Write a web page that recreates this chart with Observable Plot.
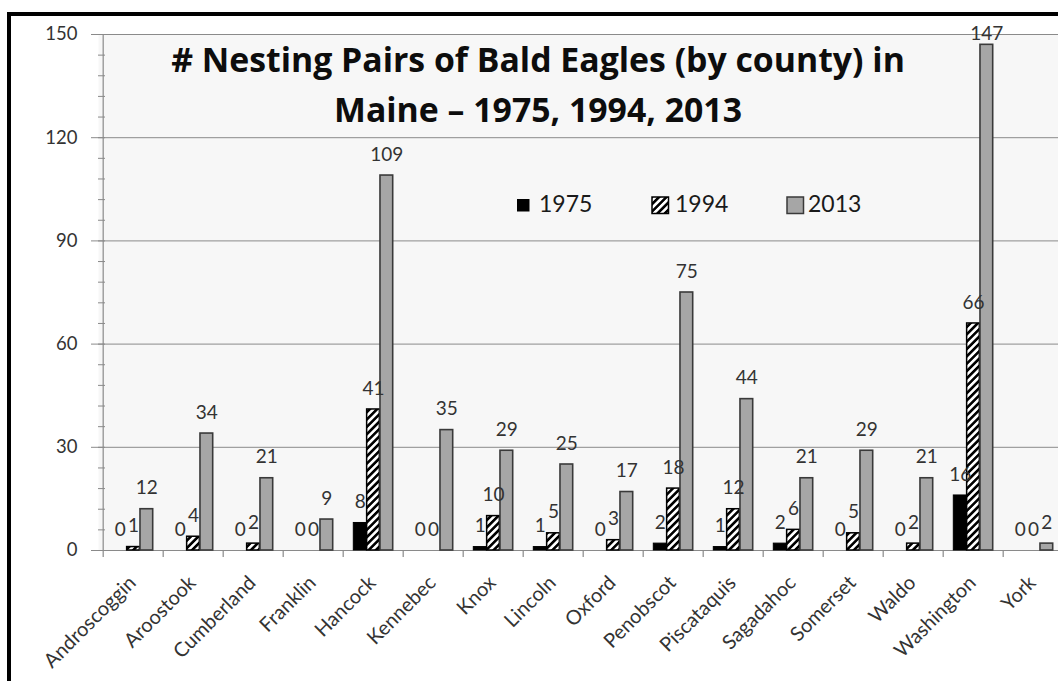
<!DOCTYPE html>
<html><head><meta charset="utf-8">
<script src="https://cdn.jsdelivr.net/npm/d3@7"></script>
<script src="https://cdn.jsdelivr.net/npm/@observablehq/plot@0.6"></script>
<style>
html,body{margin:0;padding:0;background:#fff;overflow:hidden;width:1058px;height:681px;}
#frame{position:absolute;left:7px;top:12px;width:1100px;height:700px;border-left:4px solid #000;border-top:4px solid #000;background:#fff;overflow:hidden;}
#chart{position:absolute;left:0;top:0;}
#title{position:absolute;left:27px;width:1000px;top:18px;text-align:center;font-family:"Open Sans",sans-serif;font-weight:bold;font-size:33.8px;line-height:50px;color:#0d0d0d;white-space:nowrap;}
.lg{position:absolute;font-family:Lato,sans-serif;font-size:23px;line-height:27.6px;color:#1a1a1a;top:174px;}
.sw{position:absolute;}
</style>
</head><body>
<div id="frame">
  <div id="chart"></div>
  <div id="title"># Nesting Pairs of Bald Eagles (by county) in<br>Maine – 1975, 1994, 2013</div>
  <div id="legend"></div>
</div>
<script>
const counties = ["Androscoggin","Aroostook","Cumberland","Franklin","Hancock","Kennebec","Knox","Lincoln","Oxford","Penobscot","Piscataquis","Sagadahoc","Somerset","Waldo","Washington","York"];
const years = ["1975","1994","2013"];
const pairs1975 = [0,0,0,0,8,0,1,1,0,2,1,2,0,0,16,0];
const pairs1994 = [1,4,2,0,41,0,10,5,3,18,12,6,5,2,66,0];
const pairs2013 = [12,34,21,9,109,35,29,25,17,75,44,21,29,21,147,2];
const yTicks = [0,30,60,90,120,150];
const yMinor = d3.range(0, 151, 6);

const series = {"1975": pairs1975, "1994": pairs1994, "2013": pairs2013};
const rows = years.flatMap(y => counties.map((c, i) => ({county: c, year: y, value: series[y][i]})));

const W = 1067, H = 665, mL = 87, mR = 10, mT = 18, mB = 131;
const step = (W - mL - mR) / counties.length;
const group = step * 0.66;
const bw = group / 3;
const pad = (step - group) / 2;

const styles = {
  "1975": {fill: "#000", stroke: "#000", strokeWidth: 1},
  "1994": {fill: "url(#hatch)", stroke: "#000", strokeWidth: 1.5},
  "2013": {fill: "#a6a6a6", stroke: "#3a3a3a", strokeWidth: 1.6}
};
const grid = "#8a8a8a";
const font = "Lato, sans-serif";

const barMarks = years.map((y, k) => Plot.barY(rows.filter(d => d.year === y && d.value > 0), {
  x: "county", y: "value",
  insetLeft: pad + k * bw, insetRight: step - pad - (k + 1) * bw,
  ...styles[y]
}));
const labelMarks = years.flatMap((y, k) => [
  Plot.text(rows.filter(d => d.year === y && d.value <= 140), {
    x: "county", y: "value", text: d => String(d.value),
    dx: (k - 1) * bw, dy: -21, fontSize: 19, fill: "#333", fontFamily: font
  }),
  Plot.text(rows.filter(d => d.year === y && d.value > 140), {
    x: "county", y: "value", text: d => String(d.value),
    dx: (k - 1) * bw, dy: -11, fontSize: 19, fill: "#333", fontFamily: font
  })
]);

const chart = Plot.plot({
  width: W, height: H,
  marginLeft: mL, marginRight: mR, marginTop: mT, marginBottom: mB,
  style: {fontFamily: font, background: "transparent", overflow: "visible"},
  x: {domain: counties, padding: 0, label: null},
  y: {domain: [0, 150], label: null},
  marks: [
    Plot.frame({fill: "#f7f7f7"}),
    Plot.gridY(yTicks, {stroke: grid, strokeOpacity: 1, strokeWidth: 1}),
    Plot.ruleY([0], {stroke: grid, strokeWidth: 1.2}),
    Plot.ruleX([counties[0]], {dx: -step / 2, y1: 0, y2: 150, stroke: grid, strokeWidth: 1.2}),
    Plot.ruleX(counties, {dx: -step / 2, y1: 0, y2: 0, insetBottom: -7, stroke: grid, strokeWidth: 1.2}),
    Plot.axisY(yTicks, {tickSize: 7, tickPadding: 14, fontSize: 18.5, fill: "#333", stroke: grid, label: null, tickFormat: d => String(d)}),
    Plot.axisY(yMinor, {tickSize: 7, dx: 7, stroke: grid, label: null, tickFormat: () => ""}),
    Plot.axisX({tickSize: 0, tickRotate: -45, textAnchor: "end", tickPadding: 10, dx: -1, dy: 19, fontSize: 20, fill: "#333", label: null}),
    ...barMarks,
    ...labelMarks
  ]
});
document.getElementById("chart").appendChild(chart);

const svg = d3.select(chart);
const defs = svg.insert("defs", ":first-child");
const pat = defs.append("pattern").attr("id", "hatch").attr("patternUnits", "userSpaceOnUse")
  .attr("width", 5.2).attr("height", 5.2).attr("patternTransform", "rotate(45)");
pat.append("rect").attr("width", 5.2).attr("height", 5.2).attr("fill", "#fff");
pat.append("rect").attr("width", 2.6).attr("height", 5.2).attr("fill", "#000");

// legend
const legendItems = [
  {year: "1975", sx: 506, sy: 183, size: 12.5, fill: "#000", stroke: "none", tx: 528},
  {year: "1994", sx: 641, sy: 181, size: 16.5, fill: "url(#hatch)", stroke: "#000", tx: 664},
  {year: "2013", sx: 776, sy: 181, size: 16.5, fill: "#a6a6a6", stroke: "#3a3a3a", tx: 797}
];
const lg = document.getElementById("legend");
for (const it of legendItems) {
  const s = document.createElementNS("http://www.w3.org/2000/svg", "svg");
  s.setAttribute("class", "sw");
  s.setAttribute("width", it.size + 2); s.setAttribute("height", it.size + 2);
  s.style.left = (it.sx - 1) + "px"; s.style.top = (it.sy - 1) + "px";
  const r = document.createElementNS("http://www.w3.org/2000/svg", "rect");
  r.setAttribute("x", 1); r.setAttribute("y", 1);
  r.setAttribute("width", it.size); r.setAttribute("height", it.size);
  r.setAttribute("fill", it.fill); r.setAttribute("stroke", it.stroke); r.setAttribute("stroke-width", 1.5);
  s.appendChild(r);
  lg.appendChild(s);
  const t = document.createElement("div");
  t.className = "lg"; t.style.left = it.tx + "px"; t.textContent = it.year;
  lg.appendChild(t);
}
</script>
</body></html>
